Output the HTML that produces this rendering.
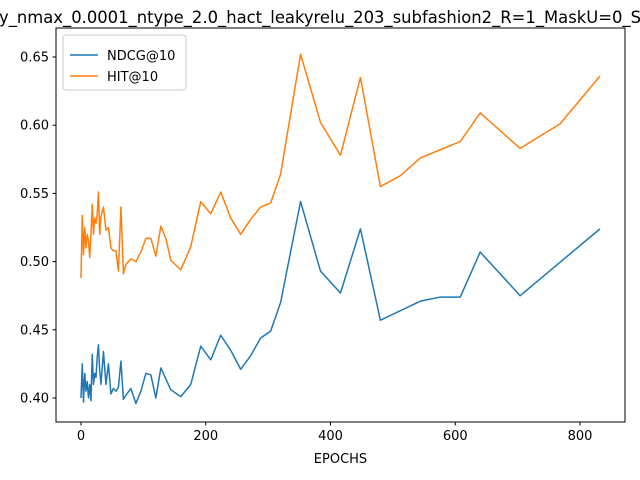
<!DOCTYPE html>
<html><head><meta charset="utf-8"><style>
body{margin:0;background:#fff;}
svg{display:block;font-family:"DejaVu Sans","Liberation Sans",sans-serif;}
</style></head><body>
<svg id="chart" width="640" height="480" viewBox="0 0 640 480">
<rect width="640" height="480" fill="#fff"/>
<text x="-1" y="23" font-size="16.4" text-anchor="start">y_nmax_0.0001_ntype_2.0_hact_leakyrelu_203_subfashion2_R=1_MaskU=0_S</text>
<g id="plot"></g>
<rect x="56" y="28" width="569" height="394" fill="none" stroke="#000" stroke-width="1"/>
<text x="340.5" y="463" font-size="13" text-anchor="middle">EPOCHS</text>
<g>
<rect x="63" y="35" width="123" height="55" rx="3" fill="#fff" stroke="#ccc"/>
<line x1="70" y1="55" x2="98" y2="55" stroke="#1f77b4" stroke-width="1.5"/>
<text x="107" y="60" font-size="13">NDCG@10</text>
<line x1="70" y1="76" x2="98" y2="76" stroke="#ff7f0e" stroke-width="1.5"/>
<text x="107" y="81" font-size="13">HIT@10</text>
</g>
</svg>
<script>
const hitEpochs=[0,2,4,6,8,10,12,14,16,18,20,22,24,26,28,30,32,36,40,44,48,52,56,60,64,68,72,80,88,96,104,112,120,128,136,144,160,176,192,208,224,240,256,272,288,304,320,352,384,416,448,480,512,544,576,608,640,704,768,832];
const hitValues=[0.488,0.534,0.505,0.525,0.51,0.52,0.515,0.503,0.52,0.542,0.52,0.532,0.528,0.535,0.551,0.52,0.533,0.54,0.523,0.525,0.51,0.508,0.508,0.493,0.54,0.491,0.498,0.502,0.5,0.507,0.517,0.517,0.504,0.526,0.517,0.501,0.494,0.511,0.544,0.535,0.551,0.532,0.52,0.531,0.54,0.543,0.564,0.652,0.602,0.578,0.635,0.555,0.563,0.576,0.582,0.588,0.609,0.583,0.601,0.636];
const ndcgEpochs=[0,2,4,6,8,10,12,14,16,18,20,22,24,26,28,30,32,36,40,44,48,52,56,60,64,68,72,80,88,96,104,112,120,128,144,160,176,192,208,224,240,256,272,288,304,320,352,384,416,448,480,544,576,608,640,704,832];
const ndcgValues=[0.40,0.425,0.397,0.418,0.405,0.412,0.40,0.41,0.398,0.432,0.41,0.418,0.415,0.43,0.439,0.42,0.41,0.434,0.41,0.425,0.403,0.407,0.405,0.408,0.427,0.399,0.402,0.407,0.396,0.405,0.418,0.417,0.4,0.422,0.406,0.401,0.41,0.438,0.428,0.446,0.435,0.421,0.431,0.444,0.449,0.47,0.544,0.493,0.477,0.524,0.457,0.471,0.474,0.474,0.507,0.475,0.524];
const xTicks=[0,200,400,600,800];
const yTicks=[0.40,0.45,0.50,0.55,0.60,0.65];
const yTickLabels=["0.40","0.45","0.50","0.55","0.60","0.65"];

const NS="http://www.w3.org/2000/svg";
const plot=document.getElementById('plot');
function sx(v){return 81+(v-0)*(580-81)/800;}
function sy(v){return 398-(v-0.40)*(398-57)/0.25;}
function mk(tag,attrs){const e=document.createElementNS(NS,tag);for(const k in attrs)e.setAttribute(k,attrs[k]);plot.appendChild(e);return e;}

xTicks.forEach(t=>{
  const l=mk('line',{x1:sx(t),x2:sx(t),y1:422,y2:425.5,stroke:'#000'});
  
  
  const tx=mk('text',{x:sx(t),y:440,'font-size':13,'text-anchor':'middle'});
  tx.textContent=String(t);
  
  
});
yTicks.forEach((t,i)=>{
  const l=mk('line',{x1:52.5,x2:56,y1:sy(t),y2:sy(t),stroke:'#000'});
  
  
  const tx=mk('text',{x:49,y:sy(t)+4.5,'font-size':13,'text-anchor':'end'});
  tx.textContent=yTickLabels[i];
  
  
});
function line(xs,ys,color){
  return mk('polyline',{points:xs.map((x,i)=>sx(x)+','+sy(ys[i])).join(' '),fill:'none',stroke:color,'stroke-width':1.5,'stroke-linejoin':'round'});
}
const l1=line(ndcgEpochs,ndcgValues,'#1f77b4');


const l2=line(hitEpochs,hitValues,'#ff7f0e');


</script>
</body></html>
